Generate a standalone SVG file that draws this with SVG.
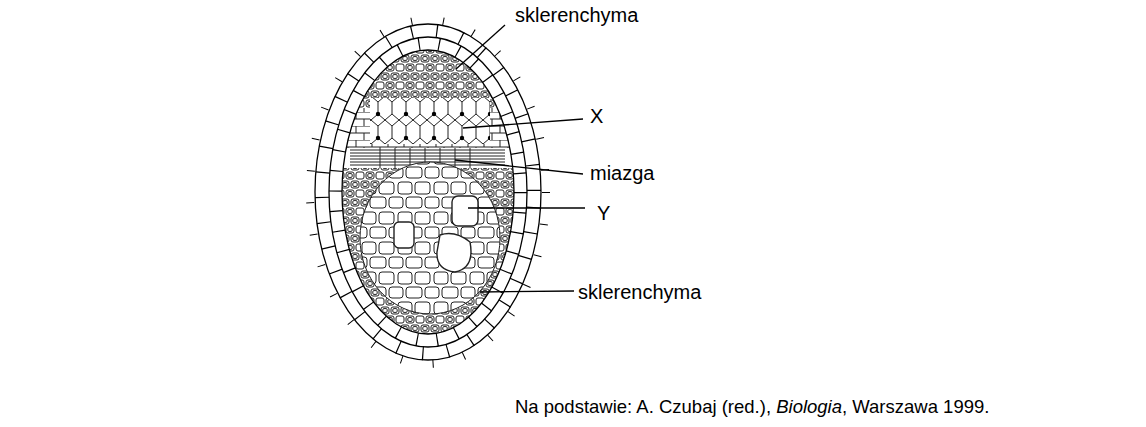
<svg xmlns="http://www.w3.org/2000/svg" width="1146" height="427" viewBox="0 0 1146 427">
<defs>
<style>
.t{font-family:"Liberation Sans",Arial,sans-serif;font-size:20px;fill:#000}
.s{font-family:"Liberation Sans",Arial,sans-serif;font-size:18.5px;fill:#000}
.l{stroke:#000;stroke-width:1.3;fill:none}
.c{fill:none;stroke:#222;stroke-width:1}
</style>
<clipPath id="bundle"><ellipse cx="428" cy="192" rx="86" ry="142"/></clipPath>
<pattern id="scl" width="20" height="18" patternUnits="userSpaceOnUse">
<rect x="1" y="1" width="8" height="7" rx="2" class="c"/><rect x="11" y="1" width="8" height="7" rx="2" class="c"/>
<rect x="2.8" y="2.6" width="4.4" height="3.8" rx="1.2" class="c"/><rect x="12.8" y="2.6" width="4.4" height="3.8" rx="1.2" class="c"/>
<rect x="6" y="10" width="8" height="7" rx="2" class="c"/><rect x="-4" y="10" width="8" height="7" rx="2" class="c"/><rect x="16" y="10" width="8" height="7" rx="2" class="c"/>
<rect x="7.8" y="11.6" width="4.4" height="3.8" rx="1.2" class="c"/>
</pattern>
<pattern id="hex" width="28" height="24" patternUnits="userSpaceOnUse">
<path d="M0 6 L7 0 L14 6 L21 0 L28 6 M0 6 V18 M14 6 V18 M28 6 V18 M0 18 L7 24 L14 18 L21 24 L28 18 M7 24 V30 M21 24 V30 M7 0 V-6 M21 0 V-6" class="c"/>
<circle cx="14" cy="18" r="2.2" fill="#000"/>
</pattern>
<pattern id="big" width="36" height="30" patternUnits="userSpaceOnUse">
<rect x="2" y="2" width="14" height="12" rx="3" class="c"/><rect x="19" y="2" width="15" height="12" rx="3" class="c"/>
<rect x="-7" y="17" width="14" height="11" rx="3" class="c"/><rect x="10" y="17" width="16" height="11" rx="3" class="c"/><rect x="29" y="17" width="14" height="11" rx="3" class="c"/>
</pattern>
<pattern id="pith" width="16" height="14" patternUnits="userSpaceOnUse">
<path d="M0 0 H16 M0 7 H16 M4 0 V7 M12 7 V14" class="c"/>
</pattern>
</defs>
<rect width="1146" height="427" fill="#fff"/>
<g id="cortex">
<ellipse cx="428" cy="192" rx="118" ry="172" fill="none" stroke="#000" stroke-width="8" stroke-dasharray="1 31"/>
<ellipse cx="428" cy="192" rx="113" ry="168" class="l"/>
<ellipse cx="428" cy="192" rx="99" ry="155" class="l"/>
<ellipse cx="428" cy="192" rx="106" ry="161.5" fill="none" stroke="#000" stroke-width="14" stroke-dasharray="1.2 24" stroke-dashoffset="10"/>
<ellipse cx="428" cy="192" rx="92.5" ry="148.5" fill="none" stroke="#000" stroke-width="13" stroke-dasharray="1.2 19"/>
</g>
<g id="bundle-tissue" clip-path="url(#bundle)">
<rect x="340" y="48" width="180" height="60" fill="url(#scl)"/>
<rect x="340" y="108" width="180" height="40" fill="url(#pith)"/>
<rect x="370" y="98" width="120" height="46" fill="#fff"/>
<rect x="370" y="98" width="120" height="46" fill="url(#hex)"/>
<rect x="340" y="148" width="180" height="20" fill="#fff"/>
<path d="M350 150H505M350 153H505M350 156H505M350 159H505M350 162H505M350 165H505M380 148V168M395 148V168M410 148V168M425 148V168M440 148V168M455 148V168M470 148V168" class="c"/>
<rect x="340" y="168" width="180" height="170" fill="url(#scl)"/>
<ellipse cx="430" cy="238" rx="70" ry="76" fill="#fff" stroke="#222"/>
<ellipse cx="430" cy="238" rx="70" ry="76" fill="url(#big)"/>
<rect x="452" y="196" width="26" height="30" rx="6" fill="#fff" stroke="#222" stroke-width="1.4"/>
<path d="M440 235 Q455 230 470 242 Q475 268 455 272 Q436 270 437 252 Z" fill="#fff" stroke="#222" stroke-width="1.4"/>
<rect x="394" y="222" width="20" height="26" rx="5" fill="#fff" stroke="#222" stroke-width="1.4"/>
</g>
<ellipse cx="428" cy="192" rx="86" ry="142" class="l"/>
<g id="connectors" class="l">
<line x1="505" y1="25" x2="456" y2="69"/>
<line x1="583" y1="119" x2="463" y2="128"/>
<line x1="583" y1="174" x2="455" y2="160"/>
<line x1="585" y1="208" x2="468" y2="208"/>
<line x1="574" y1="291" x2="480" y2="292"/>
</g>
<g id="labels">
<text class="t" x="515" y="22">sklerenchyma</text>
<text class="t" x="590" y="123">X</text>
<text class="t" x="590" y="180">miazga</text>
<text class="t" x="597" y="220">Y</text>
<text class="t" x="578" y="299">sklerenchyma</text>
<text class="s" x="515" y="413">Na podstawie: A. Czubaj (red.), <tspan font-style="italic">Biologia</tspan>, Warszawa 1999.</text>
</g>
</svg>
